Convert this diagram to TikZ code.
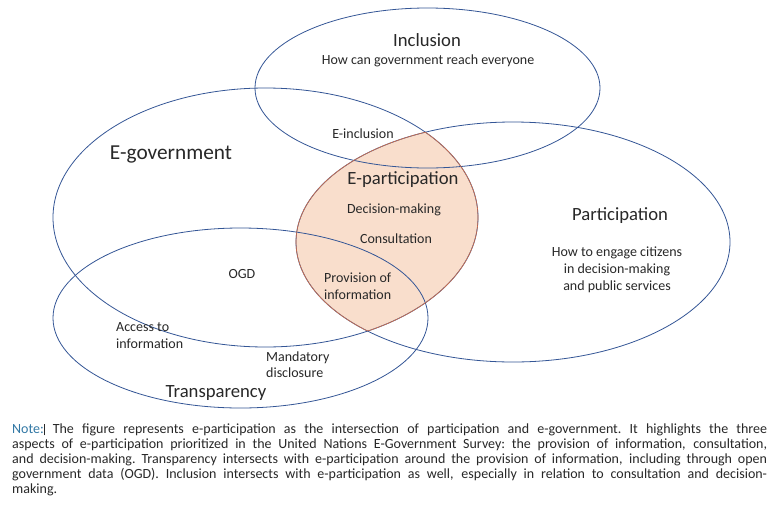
\documentclass[tikz,border=0pt]{standalone}
\usepackage{fontspec}
\setmainfont{Carlito}
\newcommand\noteline[1]{\hbox to 755pt{\spaceskip=0.2em plus 3em minus 0.05em\relax\xspaceskip=\spaceskip #1}}
\begin{document}
\begin{tikzpicture}[x=1pt,y=-1pt]
\definecolor{lineblue}{RGB}{52,86,150}
\definecolor{lensfill}{RGB}{249,222,204}
\definecolor{lensedge}{RGB}{214,110,70}
\definecolor{txt}{RGB}{40,40,40}
\definecolor{notecol}{RGB}{50,120,165}
\tikzset{
  venn/.style={draw=lineblue, line width=0.8pt},
  lbl/.style={inner sep=0pt, anchor=base, text=txt},
  lblw/.style={inner sep=0pt, anchor=base west, text=txt},
  small/.style={font=\fontsize{14}{16}\selectfont},
  big/.style={font=\fontsize{18.67}{22}\selectfont},
  huge/.style={font=\fontsize{21.3}{25}\selectfont}
}
\useasboundingbox (0,0) rectangle (769,504);
\fill[white] (0,0) rectangle (769,504);
% lens = E-government intersect Participation
\begin{scope}
  \clip (265.5,217.5) ellipse [x radius=212.5, y radius=129.5];
  \fill[lensfill] (513,242) ellipse [x radius=217, y radius=120];
\end{scope}
% ellipses
\draw[venn] (427.5,88) ellipse [x radius=172.5, y radius=80];
\draw[venn] (265.5,217.5) ellipse [x radius=212.5, y radius=129.5];
\draw[venn] (513,242) ellipse [x radius=217, y radius=120];
\draw[venn] (240.5,318) ellipse [x radius=187.5, y radius=90];
% lens border
\begin{scope}
  \clip (265.5,217.5) ellipse [x radius=212.5, y radius=129.5];
  \draw[lensedge, line width=0.6pt] (513,242) ellipse [x radius=217, y radius=120];
\end{scope}
\begin{scope}
  \clip (513,242) ellipse [x radius=217, y radius=120];
  \draw[lensedge, line width=0.6pt] (265.5,217.5) ellipse [x radius=212.5, y radius=129.5];
\end{scope}
% labels
\node[lbl,big] (incl) at (427,46) {Inclusion};
\node[lbl,small] (inclq) at (428,64) {How can government reach everyone};
\node[lbl,small] (einc) at (363,138) {E-inclusion};
\node[lbl,huge] (egov) at (171,159) {E-government};
\node[lbl,big] (epart) at (403,184) {E-participation};
\node[lbl,small] (dec) at (394,213) {Decision-making};
\node[lbl,small] (cons) at (396,243) {Consultation};
\node[lblw,small] (prov1) at (324,282) {Provision of};
\node[lblw,small] (prov2) at (324,299) {information};
\node[lbl,big] (part) at (620,220) {Participation};
\node[lbl,small] (partq1) at (617,256) {How to engage citizens};
\node[lbl,small] (partq2) at (617,273) {in decision-making};
\node[lbl,small] (partq3) at (617,290) {and public services};
\node[lbl,small] (ogd) at (242,278) {OGD};
\node[lblw,small] (acc1) at (116,331) {Access to};
\node[lblw,small] (acc2) at (116,348) {information};
\node[lblw,small] (mand1) at (266,361) {Mandatory};
\node[lblw,small] (mand2) at (266,377) {disclosure};
\node[lbl,big] (transp) at (216,397) {Transparency};
% note
\node[inner sep=0pt, anchor=north west, text=txt, font=\fontsize{14}{15}\selectfont, text width=755pt, align=left] (note) at (12,424) {%
\noteline{\textcolor{notecol}{Note:}\rule[-1.5pt]{0.7pt}{11pt} The figure represents e-participation as the intersection of participation and e-government. It highlights the three}
\noteline{aspects of e-participation prioritized in the United Nations E-Government Survey: the provision of information, consultation,}
\noteline{and decision-making. Transparency intersects with e-participation around the provision of information, including through open}
\noteline{government data (OGD). Inclusion intersects with e-participation as well, especially in relation to consultation and decision-}
\hbox{making.}};
\end{tikzpicture}
\end{document}
